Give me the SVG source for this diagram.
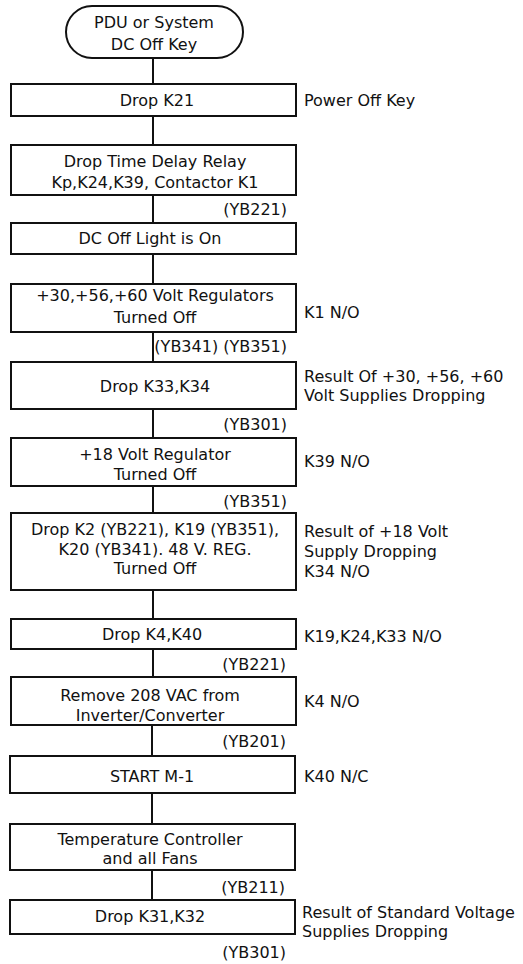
<svg xmlns="http://www.w3.org/2000/svg" width="523" height="964" viewBox="0 0 523 964">
<style>
.box{fill:#fff;stroke:#111;stroke-width:2}
.ln{stroke:#111;stroke-width:2;fill:none}
text{font-family:"DejaVu Sans","Liberation Sans",sans-serif;font-size:16px;fill:#111}
.c{text-anchor:middle}
.r{text-anchor:end}
</style>
<rect width="523" height="964" fill="#fff"/>
<g id="connectors">
<line class="ln" x1="153" y1="58" x2="153" y2="84"/>
<line class="ln" x1="153" y1="116" x2="153" y2="145"/>
<line class="ln" x1="153" y1="195" x2="153" y2="223"/>
<line class="ln" x1="153" y1="254" x2="153" y2="284"/>
<line class="ln" x1="153" y1="332" x2="153" y2="362"/>
<line class="ln" x1="153" y1="409" x2="153" y2="438"/>
<line class="ln" x1="153" y1="486" x2="153" y2="513"/>
<line class="ln" x1="153" y1="590" x2="153" y2="619"/>
<line class="ln" x1="153" y1="649" x2="153" y2="677"/>
<line class="ln" x1="152" y1="725" x2="152" y2="756"/>
<line class="ln" x1="152" y1="793" x2="152" y2="824"/>
<line class="ln" x1="152" y1="870" x2="152" y2="900"/>
</g>
<g id="n1">
<rect class="box" x="66" y="6" width="177" height="52" rx="26" ry="26"/>
<text class="c" x="154" y="28">PDU or System</text>
<text class="c" x="154" y="50">DC Off Key</text>
</g>
<g id="n2">
<rect class="box" x="11" y="84" width="285" height="32"/>
<text class="c" x="157" y="106">Drop K21</text>
<text x="304" y="106">Power Off Key</text>
</g>
<g id="n3">
<rect class="box" x="11" y="145" width="285" height="50"/>
<text class="c" x="155" y="167">Drop Time Delay Relay</text>
<text class="c" x="155" y="188">Kp,K24,K39, Contactor K1</text>
<text class="r" x="287" y="215">(YB221)</text>
</g>
<g id="n4">
<rect class="box" x="11" y="223" width="285" height="31"/>
<text class="c" x="150" y="244">DC Off Light is On</text>
</g>
<g id="n5">
<rect class="box" x="11" y="284" width="285" height="48"/>
<text class="c" x="155" y="301">+30,+56,+60 Volt Regulators</text>
<text class="c" x="155" y="323">Turned Off</text>
<text x="304" y="318">K1 N/O</text>
<text class="r" x="287" y="352">(YB341) (YB351)</text>
</g>
<g id="n6">
<rect class="box" x="11" y="362" width="285" height="47"/>
<text class="c" x="155" y="392">Drop K33,K34</text>
<text x="304" y="382">Result Of +30, +56, +60</text>
<text x="304" y="401">Volt Supplies Dropping</text>
<text class="r" x="287" y="430">(YB301)</text>
</g>
<g id="n7">
<rect class="box" x="11" y="438" width="285" height="48"/>
<text class="c" x="155" y="460">+18 Volt Regulator</text>
<text class="c" x="155" y="480">Turned Off</text>
<text x="304" y="467">K39 N/O</text>
<text class="r" x="287" y="507">(YB351)</text>
</g>
<g id="n8">
<rect class="box" x="11" y="513" width="285" height="77"/>
<text class="c" x="155" y="535">Drop K2 (YB221), K19 (YB351),</text>
<text class="c" x="155" y="555">K20 (YB341). 48 V. REG.</text>
<text class="c" x="155" y="574">Turned Off</text>
<text x="304" y="537">Result of +18 Volt</text>
<text x="304" y="557">Supply Dropping</text>
<text x="304" y="577">K34 N/O</text>
</g>
<g id="n9">
<rect class="box" x="11" y="619" width="285" height="30"/>
<text class="c" x="152" y="640">Drop K4,K40</text>
<text x="304" y="642">K19,K24,K33 N/O</text>
<text class="r" x="286" y="670">(YB221)</text>
</g>
<g id="n10">
<rect class="box" x="11" y="677" width="285" height="48"/>
<text class="c" x="150" y="701">Remove 208 VAC from</text>
<text class="c" x="150" y="721">Inverter/Converter</text>
<text x="304" y="707">K4 N/O</text>
<text class="r" x="286" y="747">(YB201)</text>
</g>
<g id="n11">
<rect class="box" x="10" y="756" width="285" height="37"/>
<text class="c" x="152" y="782">START M-1</text>
<text x="304" y="782">K40 N/C</text>
</g>
<g id="n12">
<rect class="box" x="10" y="824" width="285" height="46"/>
<text class="c" x="150" y="845">Temperature Controller</text>
<text class="c" x="150" y="864">and all Fans</text>
<text class="r" x="285" y="893">(YB211)</text>
</g>
<g id="n13">
<rect class="box" x="10" y="900" width="285" height="34"/>
<text class="c" x="150" y="922">Drop K31,K32</text>
<text x="302" y="918">Result of Standard Voltage</text>
<text x="302" y="937">Supplies Dropping</text>
<text class="r" x="286" y="958">(YB301)</text>
</g>
</svg>
